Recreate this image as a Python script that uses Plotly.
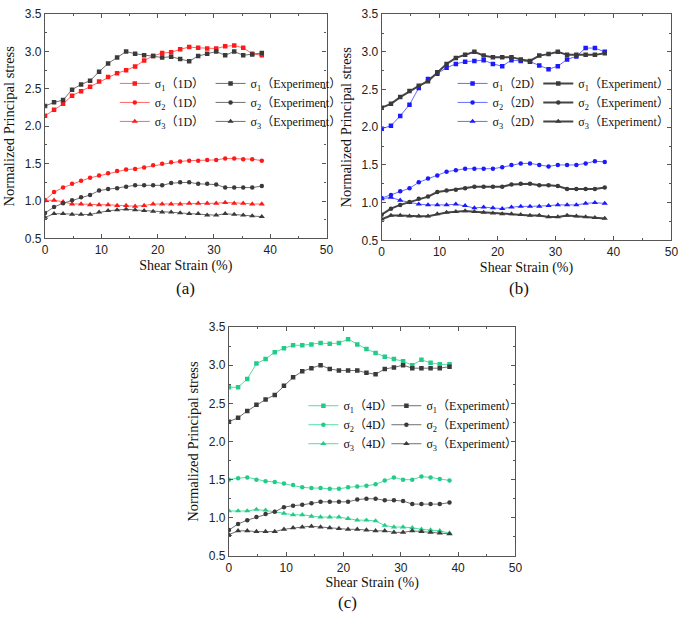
import plotly.graph_objects as go

# ---------------- data ----------------
strain = [0, 1.6, 3.2, 4.8, 6.4, 8.0, 9.6, 11.2, 12.8, 14.4, 16.0, 17.6, 19.2,
          20.8, 22.4, 24.0, 25.6, 27.2, 28.8, 30.4, 32.0, 33.6, 35.2, 36.8, 38.5]

exp_s1_a = [2.27, 2.32, 2.35, 2.49, 2.56, 2.61, 2.73, 2.84, 2.92, 3.00, 2.97, 2.95, 2.94,
            2.92, 2.93, 2.90, 2.87, 2.94, 2.97, 3.00, 2.95, 3.00, 2.95, 2.96, 2.98]
exp_s1 = [2.26, 2.31, 2.40, 2.48, 2.55, 2.61, 2.73, 2.84, 2.92, 2.96, 3.00, 2.95, 2.93,
          2.93, 2.93, 2.90, 2.88, 2.95, 2.97, 3.00, 2.96, 2.96, 2.96, 2.96, 2.98]
exp_s2 = [0.84, 0.92, 0.97, 1.01, 1.05, 1.08, 1.14, 1.16, 1.17, 1.19, 1.21, 1.21, 1.21,
          1.21, 1.24, 1.25, 1.25, 1.23, 1.23, 1.22, 1.18, 1.18, 1.18, 1.18, 1.20]
exp_s3 = [0.78, 0.83, 0.83, 0.82, 0.82, 0.82, 0.85, 0.87, 0.88, 0.89, 0.88, 0.87, 0.86,
          0.85, 0.85, 0.84, 0.83, 0.83, 0.81, 0.81, 0.83, 0.82, 0.81, 0.80, 0.79]

s1_1d = [2.14, 2.22, 2.30, 2.41, 2.47, 2.53, 2.60, 2.66, 2.71, 2.75, 2.80, 2.88, 2.94,
         2.98, 2.99, 3.03, 3.06, 3.05, 3.04, 3.04, 3.07, 3.08, 3.05, 2.97, 2.95]
s2_1d = [1.01, 1.12, 1.18, 1.23, 1.27, 1.31, 1.34, 1.37, 1.40, 1.42, 1.43, 1.45, 1.48,
         1.50, 1.52, 1.53, 1.54, 1.54, 1.55, 1.55, 1.57, 1.57, 1.56, 1.56, 1.54]
s3_1d = [1.01, 1.01, 0.99, 0.96, 0.96, 0.95, 0.95, 0.95, 0.94, 0.94, 0.93, 0.94, 0.96,
         0.96, 0.96, 0.96, 0.97, 0.97, 0.97, 0.97, 0.98, 0.97, 0.97, 0.96, 0.96]

s1_2d = [1.98, 2.02, 2.15, 2.30, 2.52, 2.64, 2.71, 2.79, 2.84, 2.87, 2.88, 2.89, 2.84,
         2.81, 2.89, 2.88, 2.87, 2.82, 2.77, 2.81, 2.90, 2.94, 3.05, 3.05, 3.00]
s2_2d = [1.06, 1.10, 1.15, 1.19, 1.27, 1.32, 1.36, 1.41, 1.43, 1.45, 1.45, 1.45, 1.45,
         1.47, 1.50, 1.52, 1.52, 1.50, 1.48, 1.50, 1.50, 1.50, 1.52, 1.55, 1.54]
s3_2d = [1.05, 1.07, 1.03, 1.00, 0.98, 0.97, 0.97, 0.97, 0.98, 0.96, 0.93, 0.94, 0.93,
         0.92, 0.94, 0.95, 0.95, 0.95, 0.96, 0.97, 0.97, 0.97, 0.99, 1.00, 0.99]

s1_4d = [2.71, 2.71, 2.82, 3.02, 3.08, 3.17, 3.22, 3.26, 3.26, 3.27, 3.29, 3.28, 3.29,
         3.34, 3.27, 3.21, 3.16, 3.11, 3.08, 3.05, 3.00, 3.07, 3.03, 3.01, 3.01]
s2_4d = [1.50, 1.52, 1.53, 1.50, 1.48, 1.47, 1.45, 1.43, 1.40, 1.39, 1.39, 1.38, 1.38,
         1.40, 1.41, 1.42, 1.44, 1.49, 1.53, 1.50, 1.50, 1.54, 1.53, 1.51, 1.49]
s3_4d = [1.09, 1.09, 1.09, 1.11, 1.10, 1.08, 1.06, 1.04, 1.04, 1.02, 1.01, 1.01, 1.01,
         0.99, 0.97, 0.97, 0.96, 0.90, 0.88, 0.88, 0.87, 0.85, 0.84, 0.83, 0.80]

panel_labels = ["(a)", "(b)", "(c)"]
model_tags = ["1D", "2D", "4D"]
model_colors = ["#ff1a1a", "#1a1aff", "#22cc88"]
model_line_colors = ["#ff6666", "#6a6aff", "#55dda8"]
exp_line_colors = ["#707070", "#444444", "#707070"]
exp_line_widths = [1, 2, 1]

SERIF = "Liberation Serif, Times New Roman, Noto Sans CJK SC, serif"
SANS = "Liberation Sans, Arial, sans-serif"

panels = [
    dict(model=[s1_1d, s2_1d, s3_1d], exp=[exp_s1_a, exp_s2, exp_s3],
         xdom=[0.0623, 0.4793], ydom=[0.6188, 0.9882],
         leg1=(0.1656, 0.898), leg2=(0.3075, 0.898), lab=(0.270, 0.537), standoff=4),
    dict(model=[s1_2d, s2_2d, s3_2d], exp=[exp_s1, exp_s2, exp_s3],
         xdom=[0.5610, 0.9902], ydom=[0.6156, 0.9882],
         leg1=(0.666, 0.898), leg2=(0.793, 0.898), lab=(0.764, 0.537), standoff=4),
    dict(model=[s1_4d, s2_4d, s3_4d], exp=[exp_s1, exp_s2, exp_s3],
         xdom=[0.3347, 0.7591], ydom=[0.0955, 0.4729],
         leg1=(0.445, 0.367), leg2=(0.568, 0.367), lab=(0.511, 0.019), standoff=3),
]

symbols = ["square", "circle", "triangle-up"]
sizes = [4.5, 4.5, 5.5]

fig = go.Figure()
layout = dict(
    width=685, height=621,
    margin=dict(l=0, r=0, t=0, b=0),
    paper_bgcolor="white", plot_bgcolor="white",
    showlegend=True,
    annotations=[],
)

for p_i, p in enumerate(panels):
    n = p_i + 1
    xa = "x" if n == 1 else f"x{n}"
    ya = "y" if n == 1 else f"y{n}"
    lg_model = "legend" if n == 1 else f"legend{2 * n - 1}"
    lg_exp = f"legend{2 * n}"
    for k in range(3):
        fig.add_trace(go.Scatter(
            x=strain, y=p["model"][k], xaxis=xa, yaxis=ya, mode="lines+markers",
            name=f"σ<sub>{k + 1}</sub>（{model_tags[p_i]}）",
            line=dict(color=model_line_colors[p_i], width=1),
            marker=dict(symbol=symbols[k], size=sizes[k], color=model_colors[p_i]),
            legend=lg_model,
        ))
    for k in range(3):
        fig.add_trace(go.Scatter(
            x=strain, y=p["exp"][k], xaxis=xa, yaxis=ya, mode="lines+markers",
            name=f"σ<sub>{k + 1}</sub>（Experiment）",
            line=dict(color=exp_line_colors[p_i], width=exp_line_widths[p_i]),
            marker=dict(symbol=symbols[k], size=sizes[k], color="#3a3a3a"),
            legend=lg_exp,
        ))

    axis_common = dict(
        showline=True, linecolor="#555555", linewidth=1.2, mirror="ticks",
        ticks="inside", ticklen=4, tickwidth=1, tickcolor="#555555",
        showgrid=False, zeroline=False,
        tickfont=dict(family=SANS, size=12, color="#222222"),
    )
    layout["xaxis" if n == 1 else f"xaxis{n}"] = dict(
        axis_common, domain=p["xdom"], anchor=ya, range=[0, 50], dtick=10, tick0=0,
        minor=dict(dtick=5, ticks="inside", ticklen=2, tickcolor="#555555"),
        title=dict(text="Shear Strain (%)", font=dict(family=SERIF, size=14, color="#111111"),
                   standoff=p["standoff"]),
    )
    layout["yaxis" if n == 1 else f"yaxis{n}"] = dict(
        axis_common, domain=p["ydom"], anchor=xa, range=[0.5, 3.5], dtick=0.5, tick0=0.5,
        tickformat=".1f",
        minor=dict(dtick=0.25, ticks="inside", ticklen=2, tickcolor="#555555"),
        title=dict(text="Normalized Principal stress", font=dict(family=SERIF, size=14.5, color="#111111"),
                   standoff=6),
    )
    leg_common = dict(bgcolor="rgba(0,0,0,0)", borderwidth=0, yanchor="top", xanchor="left",
                      font=dict(family=SERIF, size=12, color="#111111"), tracegroupgap=0)
    layout[lg_model] = dict(leg_common, x=p["leg1"][0], y=p["leg1"][1])
    layout[lg_exp] = dict(leg_common, x=p["leg2"][0], y=p["leg2"][1])
    layout["annotations"].append(dict(
        text=panel_labels[p_i], xref="paper", yref="paper", x=p["lab"][0], y=p["lab"][1],
        showarrow=False, font=dict(family=SERIF, size=17, color="#111111"),
        xanchor="center", yanchor="middle",
    ))

fig.update_layout(**layout)
fig.write_html("out.html", config={"displayModeBar": False},
               post_script="document.body.style.margin='0';document.body.style.overflow='hidden';")
